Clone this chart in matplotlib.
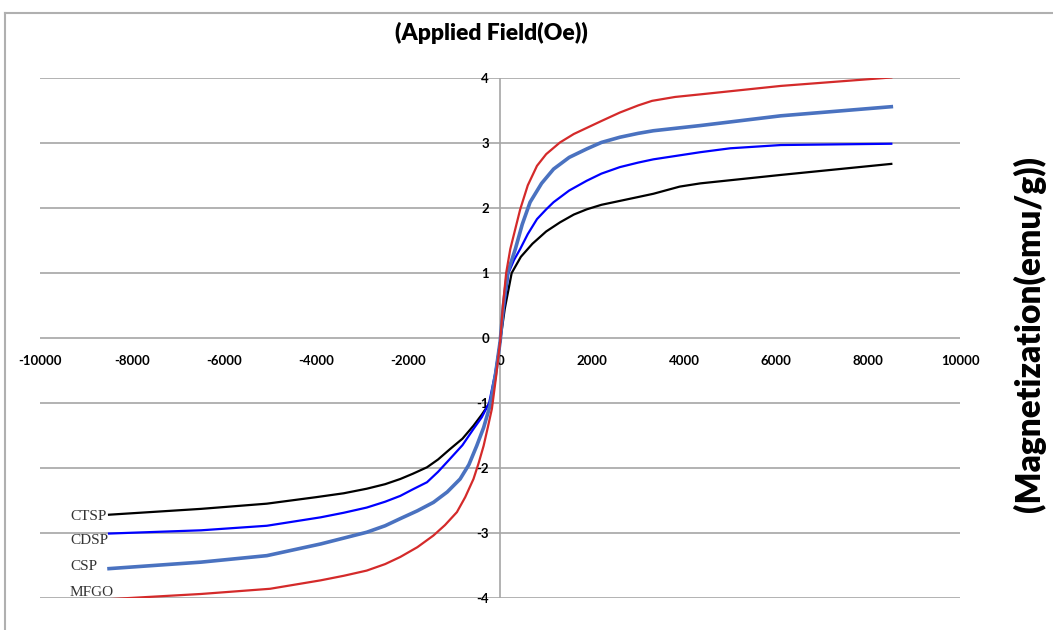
import numpy as np
import matplotlib.pyplot as plt
from matplotlib.lines import Line2D

h_mfgo = [-8500, -6500, -5000, -3900, -3400, -2900, -2500, -2170, -1800, -1450, -1200, -940,
          -760, -580, -470, -360, -270, -180, -90, 0, 60, 130, 220, 435, 600, 800, 1000,
          1300, 1600, 1900, 2200, 2600, 3000, 3300, 3800, 4350, 6100, 8500]
m_mfgo = [-4.02, -3.94, -3.86, -3.73, -3.66, -3.58, -3.48, -3.37, -3.22, -3.04, -2.88, -2.68,
          -2.45, -2.17, -1.93, -1.66, -1.38, -1.09, -0.6, -0.05, 0.5, 1.0, 1.37, 1.98, 2.35, 2.65, 2.83,
          3.01, 3.14, 3.24, 3.34, 3.47, 3.58, 3.65, 3.71, 3.75, 3.88, 4.01]

h_csp = [-8500, -6500, -5070, -3900, -3400, -2900, -2500, -2170, -1800, -1450, -1150, -870,
         -680, -510, -360, -220, -100, 0, 70, 160, 330, 480, 650, 900, 1160, 1500, 1880,
         2200, 2600, 3000, 3330, 4350, 6100, 8500]
m_csp = [-3.55, -3.45, -3.35, -3.17, -3.08, -2.99, -2.89, -2.78, -2.66, -2.53, -2.37, -2.17,
         -1.95, -1.66, -1.38, -1.04, -0.55, -0.05, 0.5, 1.0, 1.37, 1.75, 2.09, 2.38, 2.6, 2.78, 2.91,
         3.01, 3.09, 3.15, 3.19, 3.27, 3.42, 3.56]

h_cdsp = [-8500, -6500, -5070, -3900, -3400, -2900, -2500, -2170, -1900, -1590, -1350, -1090,
          -820, -580, -400, -240, -110, 0, 80, 180, 300, 435, 600, 800, 1000, 1160, 1500, 1880,
          2200, 2600, 3000, 3330, 4350, 5000, 6100, 8500]
m_cdsp = [-3.01, -2.96, -2.89, -2.76, -2.69, -2.61, -2.52, -2.43, -2.33, -2.22, -2.06, -1.86,
          -1.65, -1.40, -1.22, -1.0, -0.55, -0.05, 0.45, 1.0, 1.2, 1.37, 1.6, 1.83, 1.98, 2.09, 2.27, 2.42,
          2.53, 2.63, 2.70, 2.75, 2.86, 2.92, 2.97, 2.99]

h_ctsp = [-8500, -6500, -5070, -4000, -3400, -2900, -2500, -2170, -1900, -1590, -1350, -1090,
          -820, -580, -400, -220, -100, 0, 100, 250, 450, 700, 1000, 1300, 1600, 1880, 2200,
          2600, 3000, 3330, 3900, 4350, 6100, 8500]
m_ctsp = [-2.72, -2.63, -2.55, -2.45, -2.39, -2.32, -2.25, -2.17, -2.09, -1.99, -1.87, -1.71,
          -1.55, -1.35, -1.18, -0.99, -0.55, -0.05, 0.45, 1.0, 1.25, 1.45, 1.64, 1.78, 1.9, 1.98, 2.05,
          2.11, 2.17, 2.22, 2.33, 2.38, 2.51, 2.68]

labels = ['CTSP', 'CDSP', 'CSP', 'MFGO']
label_y = [-2.75, -3.12, -3.51, -3.91]

xticks = list(range(-10000, 10001, 2000))
yticks = list(range(-4, 5))

plt.rcParams['font.family'] = ['Lato', 'DejaVu Sans']
plt.rcParams['axes.unicode_minus'] = False

fig = plt.figure(figsize=(10.53, 6.3), dpi=100)
ax = fig.add_axes([0.038, 0.051, 0.874, 0.825])

grid_c = '#a6a6a6'
for y in yticks:
    ax.axhline(y, color=grid_c, lw=1.2, zorder=1)
ax.axvline(0, color=grid_c, lw=1.2, zorder=1)

ax.plot(h_ctsp, m_ctsp, color='black', lw=1.6, zorder=3)
ax.plot(h_cdsp, m_cdsp, color='#0000ff', lw=1.6, zorder=3)
ax.plot(h_csp, m_csp, color='#4a72c0', lw=2.6, zorder=3)
ax.plot(h_mfgo, m_mfgo, color='#d42a2a', lw=1.6, zorder=4)

for t, y in zip(labels, label_y):
    ax.text(-9350, y, t, family='Liberation Serif', fontsize=11, color='#333333',
            ha='left', va='center', zorder=5)

ax.set_xlim(-10000, 10000)
ax.set_ylim(-4, 4)
ax.set_xticks(xticks)
ax.set_yticks(yticks)
for s in ['top', 'right', 'left', 'bottom']:
    ax.spines[s].set_visible(False)
ax.tick_params(length=0, labelsize=9.5)
ax.tick_params(axis='x', pad=12)
ax.tick_params(axis='y', pad=8)
# put the tick labels next to the axes crossing at zero
ax.spines['left'].set_position('zero')
ax.spines['bottom'].set_position('zero')
for lab in ax.get_xticklabels() + ax.get_yticklabels():
    lab.set_fontweight('bold')
ax.patch.set_visible(False)

fig.text(0.467, 0.947, '(Applied Field(Oe))', fontsize=16.5, fontweight='heavy',
         ha='center', va='center')
fig.text(0.978, 0.47, '(Magnetization(emu/g))', fontsize=24, fontweight='heavy',
         rotation=90, ha='center', va='center')

# chart area frame (top and left edge)
fig.add_artist(Line2D([0.005, 1.0], [0.979, 0.979], color='#b0b0b0', lw=1.5))
fig.add_artist(Line2D([0.005, 0.005], [0.0, 0.979], color='#b0b0b0', lw=1.5))

fig.savefig('out.png', dpi=100)
